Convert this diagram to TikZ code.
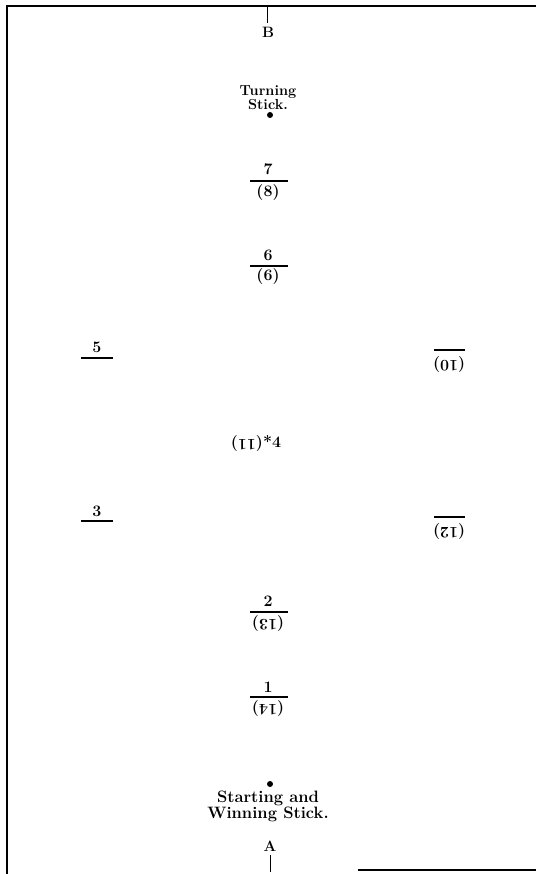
\documentclass[tikz,border=0pt]{standalone}
\usetikzlibrary{calc}
\begin{document}
\begin{tikzpicture}[x=1pt,y=-1pt,
  lbl/.style={font=\fontsize{16}{16}\bfseries\selectfont, inner sep=0pt, align=center},
  bar/.style={line width=1.4pt},
  frame/.style={line width=1.4pt},
  stickdot/.style={circle, fill=black, inner sep=0pt, minimum size=6pt}]
\useasboundingbox (0,0) rectangle (536,874);

% frame edges
\coordinate (tl) at (7,6);
\coordinate (tr) at (536,6);
\coordinate (bl) at (7,874);
\coordinate (br0) at (358,870);
\coordinate (br1) at (536,870);
\draw[frame] (tr) -- (tl) -- (bl);
\draw[frame] (br0) -- (br1);

% top end B
\coordinate (bt0) at (267,7);
\coordinate (bt1) at (267,23);
\draw[line width=1pt] (bt0) -- (bt1);
\node[lbl, font=\fontsize{15}{15}\bfseries\selectfont] (B) at (268,32) {B};
\node[lbl, font=\fontsize{14.5}{12.5}\bfseries\selectfont] (turn) at (268,98) {Turning\\Stick.};
\node[stickdot] (tdot) at (270,115) {};

% 7 / (8)
\node[lbl] (n7) at (268,169) {7};
\draw[bar] (250,181) -- (288,181);
\node[lbl] (n8) at (268,193) {(8)};
% 6 / (6)
\node[lbl] (n6) at (268,255) {6};
\draw[bar] (250,266) -- (288,266);
\node[lbl] (n9) at (268,277) {(6)};

% left 5 and right (10)
\node[lbl] (n5) at (97,347) {5};
\draw[bar] (81,358) -- (113,358);
\draw[bar] (434,350) -- (465,350);
\node[lbl, rotate=180] (n10) at (449,364) {(10)};

% centre 4 with (11)
\node[lbl, rotate=180, anchor=west] (n11) at (263,443) {(11)};
\node[lbl, anchor=west] (n4) at (263,441) {*4};

% left 3 and right (12)
\node[lbl] (n3) at (97,511) {3};
\draw[bar] (81,521) -- (113,521);
\draw[bar] (434,517) -- (465,517);
\node[lbl, rotate=180] (n12) at (449,531) {(12)};

% 2 / (13)
\node[lbl] (n2) at (268,601) {2};
\draw[bar] (250,612) -- (288,612);
\node[lbl, rotate=180] (n13) at (268,623) {(13)};
% 1 / (14)
\node[lbl] (n1) at (268,687) {1};
\draw[bar] (250,697) -- (288,697);
\node[lbl, rotate=180] (n14) at (268,708) {(14)};

% bottom end A
\node[stickdot] (sdot) at (270,784) {};
\node[lbl, font=\fontsize{16.5}{16}\bfseries\selectfont] (start) at (268,806) {Starting and\\Winning Stick.};
\node[lbl, font=\fontsize{15}{15}\bfseries\selectfont] (A) at (270,846) {A};
\coordinate (at0) at (270,855);
\coordinate (at1) at (270,872);
\draw[line width=1pt] (at0) -- (at1);
\end{tikzpicture}
\end{document}
